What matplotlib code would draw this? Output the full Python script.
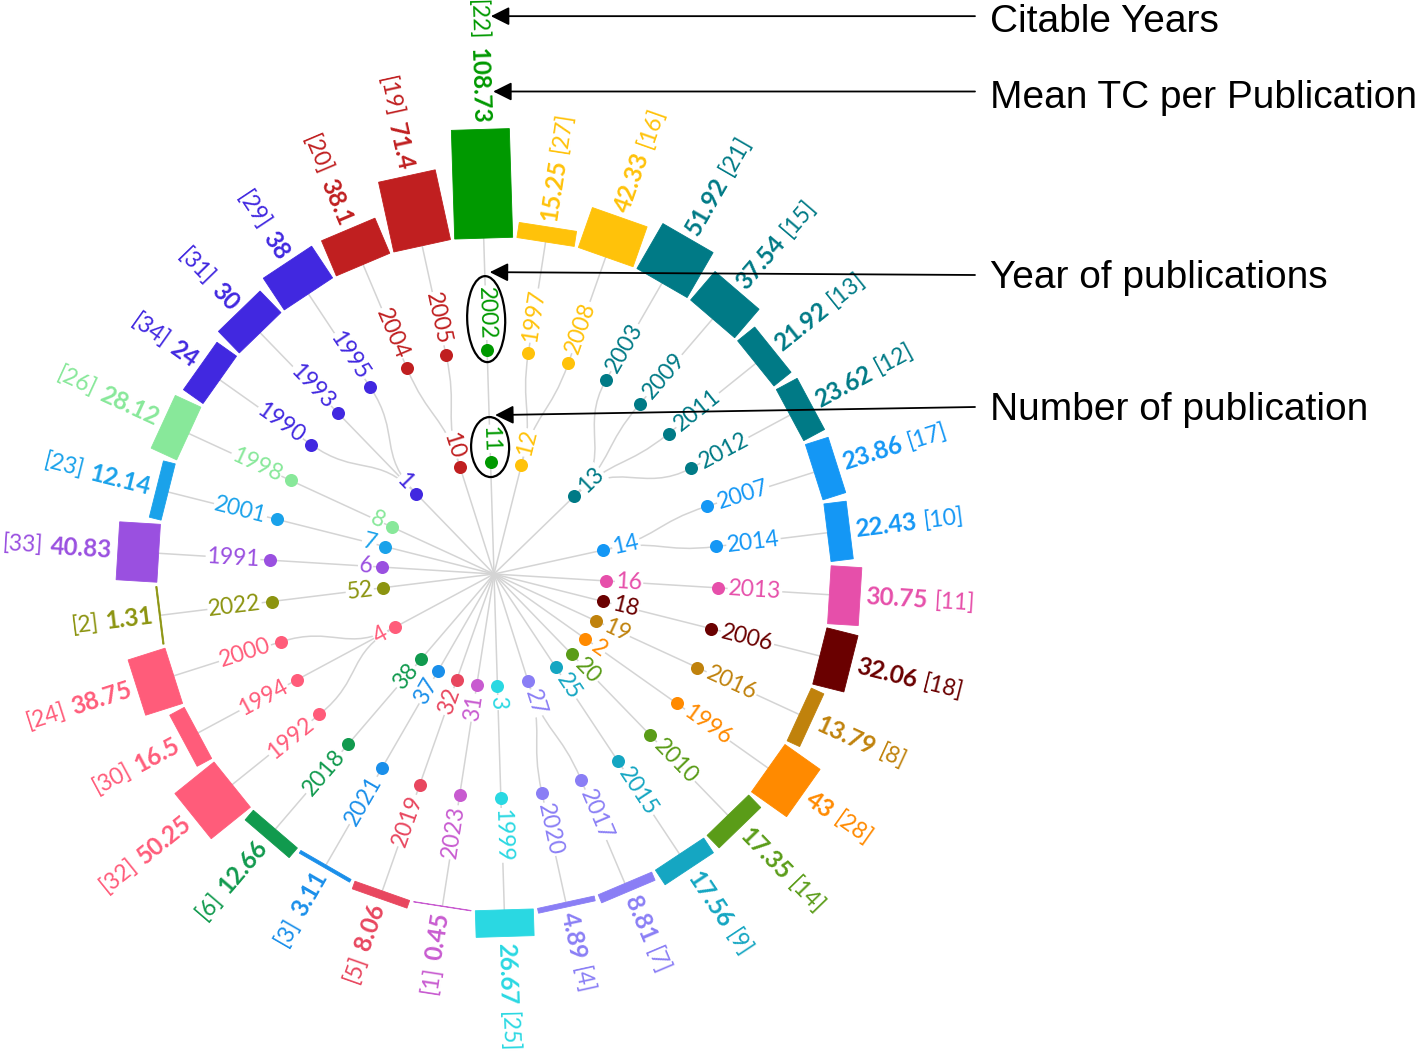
import numpy as np
import matplotlib
matplotlib.use("Agg")
import matplotlib.pyplot as plt
from matplotlib.patches import Polygon, Ellipse, PathPatch
from matplotlib.path import Path
from matplotlib.font_manager import FontProperties

# ---------------- data ----------------
years = [1990, 1991, 1992, 1993, 1994, 1995, 1996, 1997, 1998, 1999,
         2000, 2001, 2002, 2003, 2004, 2005, 2006, 2007, 2008, 2009,
         2010, 2011, 2012, 2013, 2014, 2015, 2016, 2017, 2018, 2019,
         2020, 2021, 2022, 2023]
n_pubs = [1, 6, 4, 1, 4, 1, 2, 12, 8, 3,
          4, 7, 11, 13, 10, 10, 18, 14, 12, 13,
          20, 13, 13, 16, 14, 25, 19, 27, 38, 32,
          27, 37, 52, 31]
mean_tc = [24, 40.83, 50.25, 30, 16.5, 38, 43, 15.25, 28.12, 26.67,
           38.75, 12.14, 108.73, 51.92, 38.1, 71.4, 32.06, 23.86, 42.33, 37.54,
           17.35, 21.92, 23.62, 30.75, 22.43, 17.56, 13.79, 8.81, 12.66, 8.06,
           4.89, 3.11, 1.31, 0.45]
citable_years = [34, 33, 32, 31, 30, 29, 28, 27, 26, 25,
                 24, 23, 22, 21, 20, 19, 18, 17, 16, 15,
                 14, 13, 12, 11, 10, 9, 8, 7, 6, 5,
                 4, 3, 2, 1]
group_colors = {
    1: "#4128E0", 10: "#C01F20", 11: "#009900", 12: "#FFC20A", 13: "#007A86",
    14: "#1497F5", 16: "#E64FAA", 18: "#6A0000", 19: "#C0820C", 2: "#FF8A00",
    20: "#5A9C18", 25: "#15A6C2", 27: "#8A7EF5", 3: "#2AD8E2", 31: "#C85BD0",
    32: "#E8475F", 37: "#1A8FEA", 38: "#119A4E", 4: "#FF5C7A", 52: "#8C9410",
    6: "#9A50E0", 7: "#1AA2EA", 8: "#88E89A",
}
annot_labels = ["Citable Years", "Mean TC per Publication",
                "Year of publications", "Number of publication"]

# ---------------- layout ----------------
W, H = 1418, 1055
CX, CY = 494, H - 574
R1, R2, R3 = 112, 224, 336       # group ring, year ring, bar base
BAR_W = 58
START = 144.7
LINE_C = "#D4D4D4"
FONT = "Lato"
SZ_B, SZ_N, SZ_Y, SZ_G = 17.5, 16.5, 16.5, 16.5

fig = plt.figure(figsize=(W / 100, H / 100), dpi=100)
ax = fig.add_axes([0, 0, 1, 1])
ax.set_xlim(0, W)
ax.set_ylim(0, H)
ax.axis("off")
renderer = fig.canvas.get_renderer()


def polar(r, a):
    return np.array([CX + r * np.cos(np.radians(a)), CY + r * np.sin(np.radians(a))])


def text_w(s, size, weight="normal"):
    fp = FontProperties(family=FONT, size=size, weight=weight)
    w, h, d = renderer.get_text_width_height_descent(s, fp, ismath=False)
    return w


def radial_text(r, a, s, color, size, weight="normal", box=False, z=5):
    x, y = polar(r, a)
    aa = (a + 180) % 360 - 180
    if np.cos(np.radians(aa)) >= 0:
        rot, ha = aa, "left"
    else:
        rot, ha = aa - 180, "right"
    kw = {}
    if box:
        kw["bbox"] = dict(facecolor="white", edgecolor="none", pad=0.6)
    ax.text(x, y, s, color=color, fontsize=size, fontweight=weight, family=FONT,
            rotation=rot, rotation_mode="anchor", ha=ha, va="center",
            zorder=z, **kw)


n = len(years)
order = sorted(range(n), key=lambda k: (str(n_pubs[k]), years[k]))
step = 360.0 / n
ang = {}
for j, k in enumerate(order):
    ang[k] = START - j * step

groups = []
for k in order:
    if n_pubs[k] not in groups:
        groups.append(n_pubs[k])
g_ang = {g: np.mean([ang[k] for k in range(n) if n_pubs[k] == g]) for g in groups}

# edges root -> group
for g in groups:
    p = polar(R1, g_ang[g])
    ax.plot([CX, p[0]], [CY, p[1]], color=LINE_C, lw=1.1, zorder=1,
            solid_capstyle="round")

# edges group -> year (diagonal curves), year -> bar (radial)
for k in range(n):
    g = n_pubs[k]
    a0, a1 = g_ang[g], ang[k]
    rm = (R1 + R2) / 2
    verts = [polar(R1, a0), polar(rm, a0), polar(rm, a1), polar(R2, a1)]
    path = Path(verts, [Path.MOVETO, Path.CURVE4, Path.CURVE4, Path.CURVE4])
    ax.add_patch(PathPatch(path, facecolor="none", edgecolor=LINE_C, lw=1.1, zorder=1))
    p0, p1 = polar(R2, a1), polar(R3, a1)
    ax.plot([p0[0], p1[0]], [p0[1], p1[1]], color=LINE_C, lw=1.1, zorder=1)

# bars
for k in range(n):
    a = np.radians(ang[k])
    u = np.array([np.cos(a), np.sin(a)])
    t = np.array([-np.sin(a), np.cos(a)])
    b = np.array([CX, CY]) + R3 * u
    h = mean_tc[k]
    hw = BAR_W / 2
    pts = [b - hw * t, b + hw * t, b + hw * t + h * u, b - hw * t + h * u]
    c = group_colors[n_pubs[k]]
    ax.add_patch(Polygon(pts, closed=True, facecolor=c, edgecolor=c, lw=0.6, zorder=2))

# outer labels: bold mean + [citable years]
for k in range(n):
    c = group_colors[n_pubs[k]]
    s_b = f"{mean_tc[k]:g}"
    s_n = f"[{citable_years[k]}]"
    r_b = R3 + mean_tc[k] + 6
    wb = text_w(s_b, SZ_B, "bold")
    radial_text(r_b, ang[k], s_b, c, SZ_B, weight="bold")
    radial_text(r_b + wb + 7, ang[k], s_n, c, SZ_N)

# year nodes
for k in range(n):
    c = group_colors[n_pubs[k]]
    p = polar(R2, ang[k])
    ax.scatter([p[0]], [p[1]], s=88, color=c, zorder=6, linewidths=0)
    radial_text(R2 + 11, ang[k], str(years[k]), c, SZ_Y, box=True)

# group nodes
for g in groups:
    c = group_colors[g]
    p = polar(R1, g_ang[g])
    ax.scatter([p[0]], [p[1]], s=88, color=c, zorder=6, linewidths=0)
    radial_text(R1 + 10, g_ang[g], str(g), c, SZ_G, box=True)

# ---------------- annotations ----------------
k2002 = years.index(2002)
a2 = ang[k2002]
g11 = n_pubs[k2002]
# ellipses
e1c = polar(R2 + 31, a2)
ax.add_patch(Ellipse(e1c, 86, 38, angle=a2, facecolor="none", edgecolor="black",
                     lw=1.6, zorder=7))
e2c = polar(R1 + 15, g_ang[g11])
ax.add_patch(Ellipse(e2c, 60, 38, angle=g_ang[g11], facecolor="none",
                     edgecolor="black", lw=1.6, zorder=7))

r_b = R3 + mean_tc[k2002] + 6
wb = text_w(f"{mean_tc[k2002]:g}", SZ_B, "bold")
wn = text_w(f"[{citable_years[k2002]}]", SZ_N)
tip_cit = polar(r_b + wb + 7 + wn / 2 + 4, a2) + np.array([14, 0])
tip_mean = polar(r_b + wb / 2 - 6, a2) + np.array([14, 0])
tip_year = polar(R2 + 31 + 43 + 4, a2) + np.array([5, 0])
tip_num = polar(R1 + 15 + 30 + 2, g_ang[g11]) + np.array([6, 0])

tails_y = [tip_cit[1], tip_mean[1], H - 275, H - 407]
tips = [tip_cit, tip_mean, tip_year, tip_num]
base_y = [H - 32, H - 108, H - 288, H - 420]
for lab, ty, tp, by in zip(annot_labels, tails_y, tips, base_y):
    ax.annotate("", xy=(tp[0], tp[1]), xytext=(975, ty),
                arrowprops=dict(arrowstyle="-|>", color="black", lw=1.3,
                                mutation_scale=28, shrinkA=0, shrinkB=0),
                zorder=8)
    ax.text(990, by, lab, fontsize=28, family="Liberation Sans", color="black",
            ha="left", va="baseline", zorder=8)

fig.savefig("out.png", dpi=100, facecolor="white")
